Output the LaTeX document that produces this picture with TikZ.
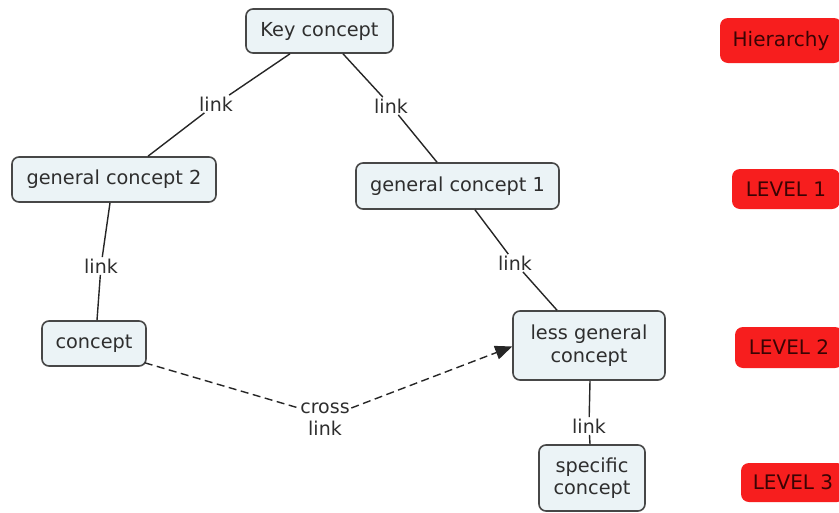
\documentclass[tikz,border=0pt]{standalone}
\usepackage{fontspec}
\setmainfont{DejaVu Sans}
\usetikzlibrary{arrows.meta}
\definecolor{knotenfill}{HTML}{EBF3F6}
\definecolor{rahmen}{HTML}{474747}
\definecolor{ebenerot}{HTML}{F71E1E}
\definecolor{ebenetext}{HTML}{3A0404}
\tikzset{
  konzept/.style={draw=rahmen, line width=1.6pt, fill=knotenfill, rounded corners=7pt,
    align=center, text=black!82, font=\fontsize{19.3}{22.5}\selectfont},
  ebene/.style={fill=ebenerot, rounded corners=8pt, text=ebenetext,
    font=\fontsize{20}{22}\selectfont},
  linktext/.style={inner sep=1.5pt, text=black!82, align=center,
    font=\fontsize{19}{21.5}\selectfont},
  verbindung/.style={draw=black!85, line width=1.4pt},
}
\begin{document}
\begin{tikzpicture}[x=1pt, y=-1pt]
    \useasboundingbox (0,0) rectangle (839,512);
    % Konzepte
    \node[konzept, minimum width=147pt, minimum height=44pt] (key) at (319.5,31) {Key concept};
    \node[konzept, minimum width=204pt, minimum height=45pt] (gc2) at (114,179.5) {general concept 2};
    \node[konzept, minimum width=203pt, minimum height=46pt] (gc1) at (457.5,186) {general concept 1};
    \node[konzept, minimum width=104pt, minimum height=45pt] (con) at (94,343.5) {concept};
    \node[konzept, minimum width=152pt, minimum height=69pt] (less) at (589,345.5) {less general\\concept};
    \node[konzept, minimum width=106pt, minimum height=66pt] (spec) at (592,478) {specific\\concept};
    % Ebenen
    \node[ebene, minimum width=122pt, minimum height=45pt] (hier) at (781,40.5) {Hierarchy};
    \node[ebene, minimum width=108pt, minimum height=40pt] (lev1) at (786,189) {LEVEL 1};
    \node[ebene, minimum width=108pt, minimum height=41pt] (lev2) at (789,347.5) {LEVEL 2};
    \node[ebene, minimum width=104pt, minimum height=39pt] (lev3) at (793,482.5) {LEVEL 3};
    % Beschriftung
    \node[linktext] (l1) at (216,104) {link};
    \node[linktext] (l2) at (391,106) {link};
    \node[linktext] (l3) at (101,266) {link};
    \node[linktext] (l4) at (515,263) {link};
    \node[linktext] (l5) at (589,426) {link};
    \node[linktext] (cross) at (325,419) {cross\\link};
    % Verbindungen
    \draw[verbindung] (key.south -| 290,0) -- (l1) -- (gc2.north -| 148,0);
    \draw[verbindung] (key.south -| 343,0) -- (l2) -- (gc1.north -| 437,0);
    \draw[verbindung] (gc2.south -| 110,0) -- (l3) -- (con.north -| 97,0);
    \draw[verbindung] (gc1.south -| 475,0) -- (l4) -- (less.north -| 557,0);
    \draw[verbindung] (less.south -| 590,0) -- (l5) -- (spec.north -| 590,0);
    % Querverbindung
    \draw[verbindung, dash pattern=on 8pt off 4.5pt] ([xshift=-2pt,yshift=4pt]con.south east)
        -- ([yshift=11pt]cross.west);
    \draw[verbindung, dash pattern=on 8pt off 4.5pt, -{Triangle[length=17pt, width=14pt]}]
        ([yshift=11pt]cross.east) -- ([yshift=-1pt]less.west);
\end{tikzpicture}
\end{document}
